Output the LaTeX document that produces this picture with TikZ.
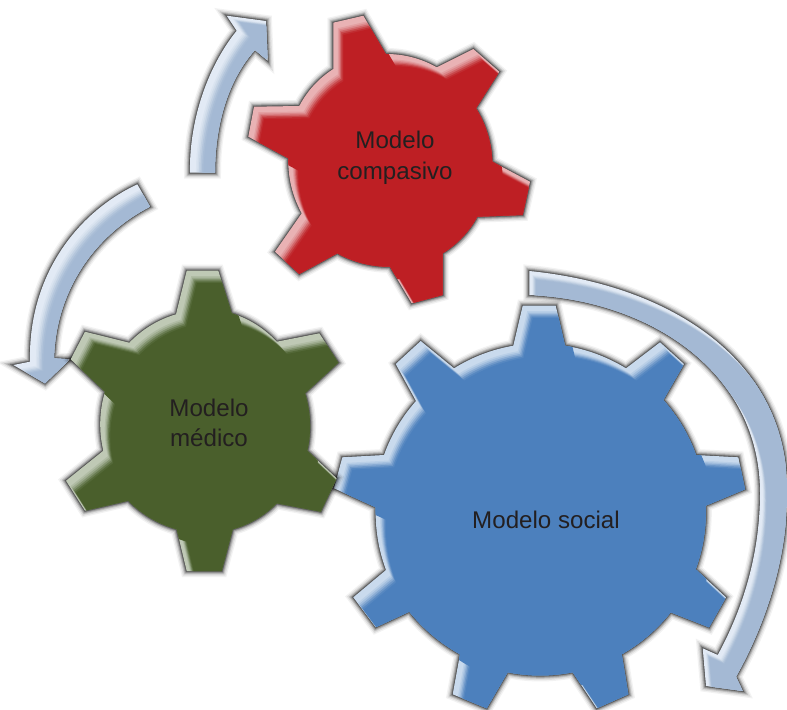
\documentclass[tikz,border=0pt]{standalone}
\usepackage{fontspec}
\setmainfont{Liberation Sans}
\definecolor{redmain}{HTML}{BE1F24}
\definecolor{redrim}{HTML}{E9B2B4}
\definecolor{greenmain}{HTML}{4A5F2C}
\definecolor{greenrim}{HTML}{BFC9B5}
\definecolor{bluemain}{HTML}{4C80BD}
\definecolor{bluerim}{HTML}{C9DAED}
\definecolor{arrowmain}{HTML}{A4B9D4}
\definecolor{arrowrim}{HTML}{E2EAF5}
\definecolor{inktext}{HTML}{231F20}
\tikzset{
  redarc/.style={bend left=15,looseness=.87},
  greenarc/.style={bend left=15,looseness=.87},
  bluearc/.style={bend left=11,looseness=.87},
  label/.style={font=\fontsize{18.1}{23}\selectfont,text=inktext,align=center,inner sep=0pt}
}
\def\redgear{(333.3,22.7)--(363.3,15.7)--(385.7,54) to[redarc] (436.7,67.3)--(473.3,49)--(499.3,71.7)--(476,108.3) to[redarc] (492.3,161.7)--(530,181.7)--(522.7,215)--(477.3,216.7) to[redarc] (442.7,253.3)--(442.7,295)--(411.7,303.3)--(390,266.7) to[redarc] (337.3,253.3)--(299.3,274)--(275,251.7)--(301.7,213.3) to[redarc] (288.3,158.3)--(248.3,136.7)--(254,106.7)--(299.3,106) to[redarc] (333.3,69)--cycle}
\def\greengear{(186.7,270.7)--(218.3,270.7)--(231.7,313.3) to[greenarc] (276.7,341.7)--(319.3,333.3)--(338.3,362.7)--(305,393.3) to[greenarc] (307.3,450.7)--(336.7,478.3)--(320.7,511.7)--(276.7,503.3) to[greenarc] (232.7,529.3)--(221.7,571)--(186.7,571)--(176.7,529.3) to[greenarc] (128.3,500.7)--(85,510.7)--(66,480.7)--(103.3,450.7) to[greenarc] (105,391.7)--(70.7,359.3)--(85,331.7)--(129.3,342.7) to[greenarc] (176,314.3)--cycle}
\def\bluegear{(522.7,305.7)--(555.7,305.7)--(565,345.7) to[bluearc] (626,368.3)--(660,342.3)--(684,364)--(663.3,400) to[bluearc] (696,455)--(738.3,457.3)--(745,489.3)--(705.7,505.7) to[bluearc] (695.7,569.3)--(726,597.3)--(709,627.3)--(670.7,612.3) to[bluearc] (621.7,654.3)--(628.3,694.3)--(596.7,708.3)--(572.7,672.3) to[bluearc] (507.7,672.3)--(486.7,708.3)--(452.7,694.3)--(460,654.3) to[bluearc] (409.3,611.7)--(375.7,627.3)--(353.3,597.3)--(386,570) to[bluearc] (375.7,507.3)--(334,488.3)--(342.3,457.3)--(384,455) to[bluearc] (416,401)--(395.7,364)--(420.7,341)--(454,368.3) to[bluearc] (513.3,345.7)--cycle}
\def\arrowone{(190,172.7) .. controls (189,125) and (205,70) .. (236.7,30.7)--(226.7,15.7)--(266,21)--(267.7,60.7)--(255,50) .. controls (228,80) and (215,125) .. (215,172.7)--cycle}
\def\arrowtwo{(137.3,184.3) .. controls (78,212) and (28,275) .. (30,361.7)--(13.3,365)--(45,383.3)--(70,359.3)--(54,358.3) .. controls (56,290) and (95,235) .. (150,206.7)--cycle}
\def\arrowthree{(529.3,271) .. controls (670,285) and (790,360) .. (787,495) .. controls (787,560) and (765,625) .. (736,676.7)--(742.7,691)--(706,686)--(702.7,648.3)--(717.7,655) .. controls (745,605) and (760,550) .. (760,493) .. controls (760,372) and (650,300) .. (529.3,295)--cycle}
\newcommand{\bevelshape}[5]{%
  \foreach \w/\o in {9/.05,7/.08,5/.12,3.5/.18,2/.25,1/.3}{\draw[black,line width=\w pt,opacity=\o,line join=miter] #1;}
  \fill[#3] #1;
  \begin{scope}
    \clip #1;
    \foreach \t/\o in {1/.12,1.25/.18,1.5/.3,1.75/.45,2/.65,2.25/1}{\fill[#2,opacity=\o,shift={(\t*#4,\t*#5)}] #1;}
  \end{scope}}
\begin{document}
\begin{tikzpicture}[x=0.75pt,y=-0.75pt]
\useasboundingbox (0,0) rectangle (787,709);
\fill[white] (0,0) rectangle (787,709);
\bevelshape{\arrowone}{arrowmain}{arrowrim}{6}{3}
\bevelshape{\arrowtwo}{arrowmain}{arrowrim}{6}{4}
\bevelshape{\arrowthree}{arrowmain}{arrowrim}{3}{4}
\bevelshape{\redgear}{redmain}{redrim}{4.5}{5.5}
\bevelshape{\bluegear}{bluemain}{bluerim}{4.5}{5.5}
\bevelshape{\greengear}{greenmain}{greenrim}{4.5}{5.5}
\node[label] (compasivo) at (395,157) {\rule{0pt}{14pt}Modelo\\compasivo};
\node[label] (medico) at (209,423) {Modelo\\médico};
\node[label] (social) at (546,520) {Modelo social};
\end{tikzpicture}
\end{document}
